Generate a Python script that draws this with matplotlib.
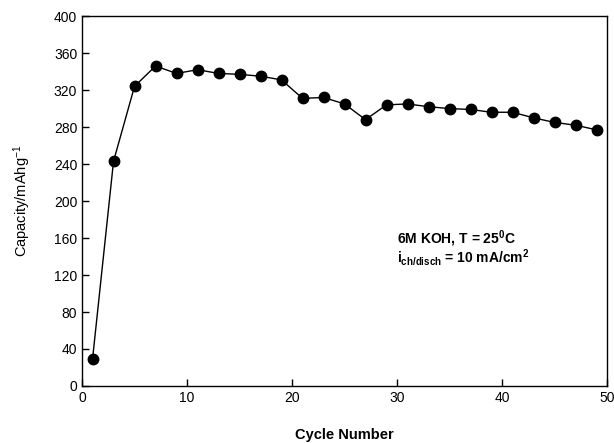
import matplotlib
matplotlib.use("Agg")
from matplotlib import pyplot as plt

cycles = [1, 3, 5, 7, 9, 11, 13, 15, 17, 19, 21, 23, 25, 27, 29, 31, 33, 35, 37, 39, 41, 43, 45, 47, 49]
capacity = [29, 243, 324, 346, 338, 342, 338, 337, 335, 331, 311, 312, 305, 288, 304, 305, 302, 300, 299, 296, 296, 290, 285, 282, 277]

plt.rcParams['font.family'] = ['Liberation Sans', 'DejaVu Sans']
plt.rcParams['mathtext.fontset'] = 'custom'
plt.rcParams['mathtext.rm'] = 'Liberation Sans'
plt.rcParams['mathtext.bf'] = 'Liberation Sans:bold'
plt.rcParams['mathtext.default'] = 'regular'

fig = plt.figure(figsize=(6.14, 4.43), dpi=100)
ax = fig.add_axes([0.1336, 0.1287, 0.855, 0.835])

ax.plot(cycles, capacity, color='black', linewidth=1, marker='o',
        markersize=7.5, markerfacecolor='black')

ax.set_xlim(0, 50)
ax.set_ylim(0, 400)
ax.set_xticks(range(0, 51, 10))
ax.set_yticks(range(0, 401, 40))
ax.tick_params(direction='in', length=5, width=1, labelsize=10, top=False, right=False)
for s in ax.spines.values():
    s.set_linewidth(1)

ax.set_xlabel("Cycle Number", fontsize=10.5, fontweight='bold', labelpad=17)
ax.set_ylabel("Capacity/mAhg$^{-1}$", fontsize=10.5, labelpad=15)

ax.text(0.60, 0.386, r"6M KOH, T = 25$\mathbf{^0}$C", transform=ax.transAxes, fontsize=10, fontweight='bold')
ax.text(0.60, 0.333, r"i$\mathbf{_{ch/disch}}$ = 10 mA/cm$\mathbf{^2}$", transform=ax.transAxes, fontsize=10, fontweight='bold')

fig.savefig("out.png", dpi=100)
